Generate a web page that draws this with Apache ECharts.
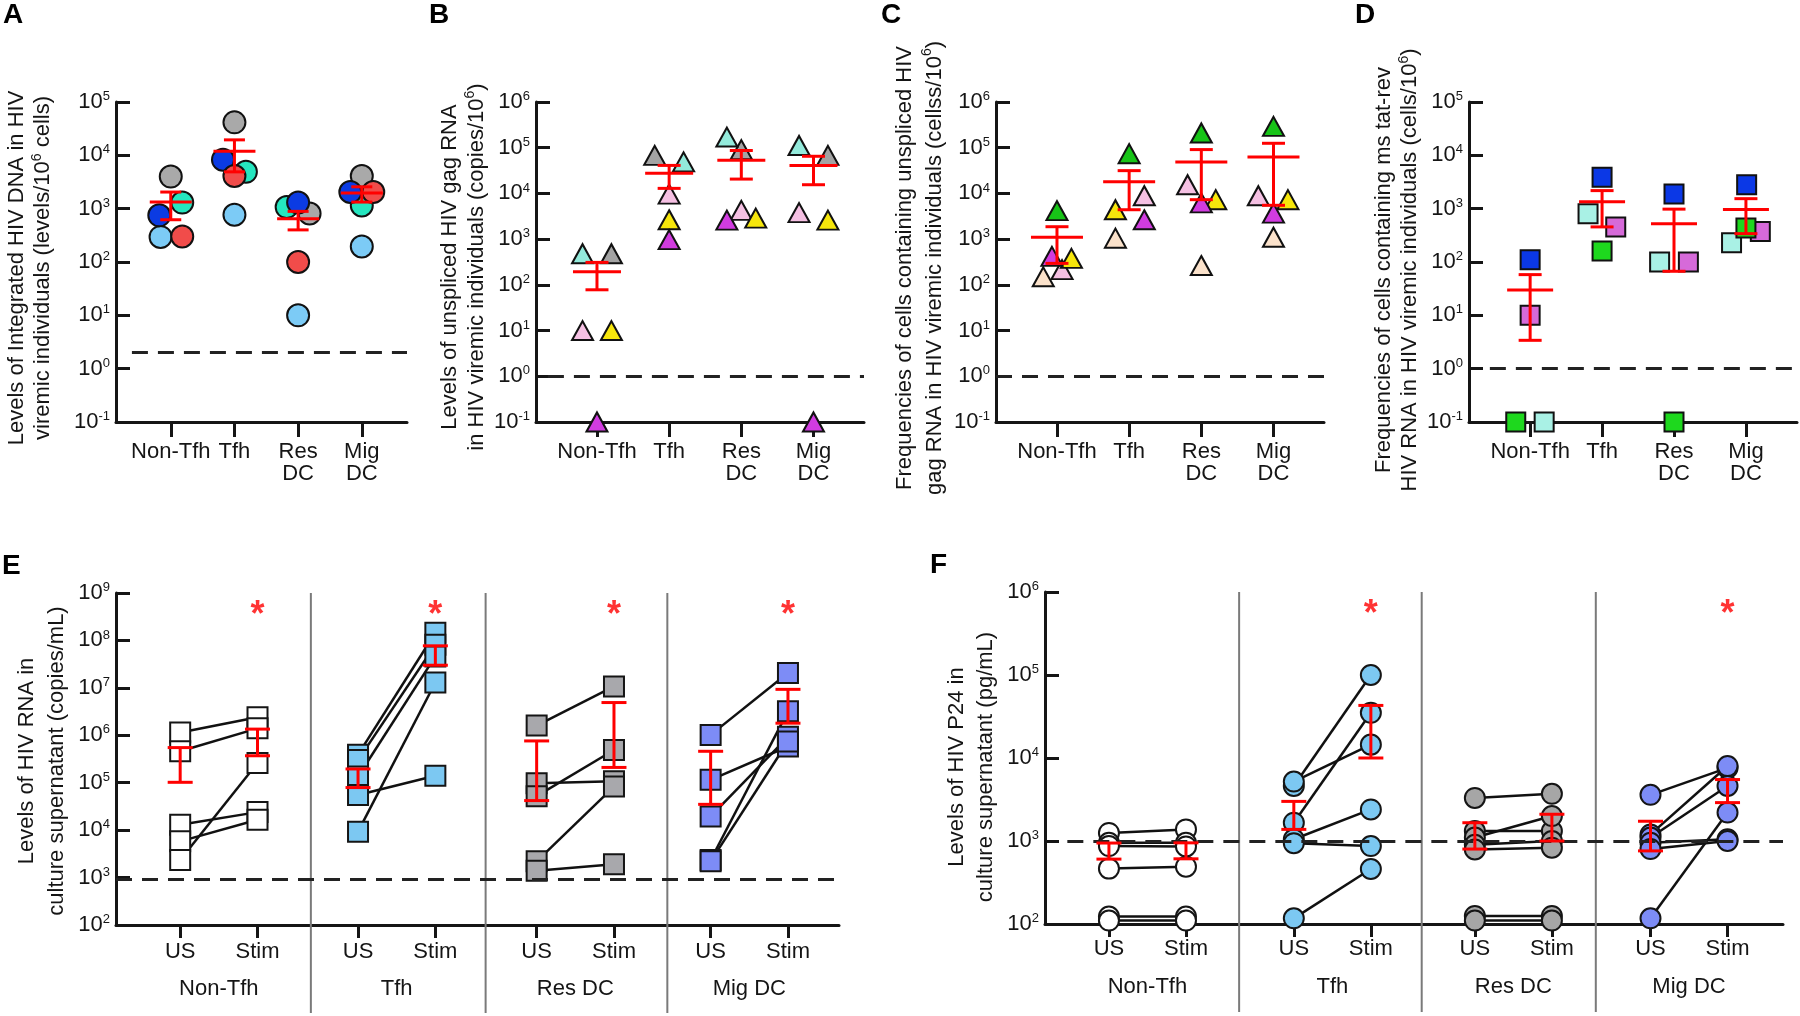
<!DOCTYPE html>
<html><head><meta charset="utf-8">
<style>html,body{margin:0;padding:0;background:#fff}#c{width:1800px;height:1016px}</style>
<script src="https://cdn.jsdelivr.net/npm/echarts@6/dist/echarts.min.js"></script>
</head><body><div id="c"></div><script>
// ================= DATA =================
const categories = ['Non-Tfh', 'Tfh', 'Res\nDC', 'Mig\nDC'];
const groupsEF = ['Non-Tfh', 'Tfh', 'Res DC', 'Mig DC'];
const conditions = ['US', 'Stim'];

// Panel A: integrated HIV DNA
const A_gray      = [4000, 41500, 810, 4100];
const A_teal      = [1300, 4900, 1070, 1150];
const A_lightblue = [295, 770, 10, 195];
const A_blue      = [750, 8300, 1300, 2050];
const A_red       = [300, 4100, 100, 2050];
const A_mean = [1330, 11900, 645, 1960];
const A_low  = [620, 4900, 400, 1330];
const A_high = [2050, 19500, 890, 2570];
const A_limit = 2;

// Panel B: unspliced gag RNA
const B_gray    = [480, 68000, 91000, 68000];
const B_teal    = [480, 49000, 171000, 112000];
const B_pink    = [10, 9650, 4260, 3800];
const B_yellow  = [10, 2650, 2880, 2600];
const B_magenta = [0.1, 975, 2600, 0.1];
const B_mean = [193, 27600, 53500, 41000];
const B_low  = [78, 12900, 20600, 15500];
const B_high = [310, 41000, 87000, 65000];
const B_limit = 1;

// Panel C: cells containing unspliced gag RNA
const C_green   = [4200, 74000, 210000, 293000];
const C_peach   = [150, 1050, 265, 1100];
const C_pink    = [215, 8900, 15500, 8900];
const C_yellow  = [380, 4400, 7300, 7300];
const C_magenta = [420, 2650, 6200, 3700];
const C_mean = [1100, 18000, 49000, 63000];
const C_low  = [295, 4400, 7300, 5500];
const C_high = [1870, 31500, 91000, 125000];
const C_limit = 1;

// Panel D: cells containing ms tat-rev RNA
const D_blue   = [110, 3900, 1880, 2800];
const D_teal   = [0.1, 800, 100, 230];
const D_orchid = [10, 455, 100, 375];
const D_green  = [0.1, 160, 0.1, 435];
const D_mean = [30, 1350, 520, 960];
const D_low  = [3.4, 455, 67, 340];
const D_high = [58, 2180, 980, 1540];
const D_limit = 1;

// Panel E: HIV RNA in culture supernatant (paired US -> Stim)
const E_nonTfh_US   = [1.15e6, 4.6e5, 1.3e4, 5.8e3, 2.35e3];
const E_nonTfh_Stim = [2.4e6, 1.4e6, 2.4e4, 1.66e4, 2.6e5];
const E_tfh_US      = [3.9e5, 3.0e5, 1.35e5, 9.3e3, 5.5e4];
const E_tfh_Stim    = [1.45e8, 8.1e7, 4.6e7, 1.3e7, 1.4e5];
const E_res_US      = [1.6e6, 9.8e4, 5.2e4, 2.2e3, 1.4e3];
const E_res_Stim    = [1.07e7, 1.07e5, 4.9e5, 8.3e4, 1.9e3];
const E_mig_US      = [1.02e6, 1.15e5, 1.95e4, 2.35e3, 2.2e3];
const E_mig_Stim    = [2.05e7, 5.8e5, 9.3e5, 3.2e6, 7.4e5];
const E_US_low    = [1.02e5, 7.9e4, 4.2e4, 3.5e4];
const E_US_high   = [5.5e5, 1.95e5, 7.6e5, 4.6e5];
const E_Stim_low  = [3.7e5, 3.0e7, 2.1e5, 1.8e6];
const E_Stim_high = [1.35e6, 7.7e7, 4.9e6, 9.3e6];
const E_limit = 900;
const E_sig = [true, true, true, true];

// Panel F: HIV P24 in culture supernatant (paired US -> Stim)
const F_nonTfh_US   = [1250, 950, 870, 465, 123, 110];
const F_nonTfh_Stim = [1380, 950, 860, 490, 123, 110];
const F_tfh_US      = [4600, 5200, 1660, 1050, 940, 117];
const F_tfh_Stim    = [100000, 14500, 35000, 2400, 870, 460];
const F_res_US      = [3300, 1320, 1100, 900, 790, 125, 110];
const F_res_Stim    = [3700, 1320, 2000, 1000, 830, 125, 110];
const F_mig_US      = [3600, 1200, 1100, 950, 800, 117];
const F_mig_Stim    = [7600, 8000, 4600, 1050, 1000, 2200];
const F_US_low    = [605, 1380, 800, 760];
const F_US_high   = [945, 3000, 1660, 1730];
const F_Stim_low  = [610, 10000, 1000, 2900];
const F_Stim_high = [950, 43000, 2100, 5500];
const F_limit = 1000;
const F_sig = [false, true, false, true];

// ================= LAYOUT (horizontal jitter / group placement) =================
const A_jitGray=[0,0,0.18,0], A_jitTeal=[0.18,0.18,-0.18,0], A_jitLightblue=[-0.16,0,0,0], A_jitBlue=[-0.18,-0.18,0,-0.18], A_jitRed=[0.18,0,0,0.18];
const B_jitGray=[0.2,-0.2,0,0.2], B_jitTeal=[-0.2,0.2,-0.2,-0.2], B_jitPink=[-0.2,0,0,-0.2], B_jitYellow=[0.2,0,0.2,0.2], B_jitMagenta=[0,0,-0.2,0];
const C_jitGreen=[0,0,0,0], C_jitPeach=[-0.19,-0.19,0,0], C_jitPink=[0.07,0.21,-0.19,-0.21], C_jitYellow=[0.2,-0.19,0.2,0.2], C_jitMagenta=[-0.07,0.21,0,0];
const D_jitBlue=[0,0,0,0.01], D_jitTeal=[0.195,-0.195,-0.2,-0.2], D_jitOrchid=[0,0.19,0.2,0.2], D_jitGreen=[-0.2,0,0,0];
const E_groupX = [0, 2.3, 4.61, 6.86];
const F_groupX = [0, 2.4, 4.75, 7.03];
const E_divX = [1.69, 3.95, 6.3];
const F_divX = [1.69, 4.06, 6.32];
const E_starLevel = 5.1e8, F_starLevel = 6.8e5;

// ================= BUILD =================
const FONT = '"Liberation Sans", Arial, Helvetica, sans-serif';
const INK = '#151515';
const RED = '#ff0000';
const grids = [], xAxes = [], yAxes = [], series = [];

function supFmt(v){ const e = Math.round(Math.log10(v)); return '{b|10}{s|' + e + '}'; }
const tickRich = {
  b:{fontSize:22, fontFamily:FONT, color:INK, lineHeight:24},
  s:{fontSize:13, fontFamily:FONT, color:INK, lineHeight:13, verticalAlign:'top'}
};

function addGrid(left, top, width, height){
  grids.push({left, top, width, height, containLabel:false, outerBoundsMode:'none'});
  return grids.length - 1;
}
function addLogY(gi, min, max, name, gap, lh, shift){
  yAxes.push({type:'log', logBase:10, gridIndex:gi, min, max, splitNumber:10,
    axisLine:{show:true, onZero:false, lineStyle:{color:INK, width:3}},
    axisTick:{show:true, inside:true, length:14, lineStyle:{color:INK, width:3}},
    minorTick:{show:false}, splitLine:{show:false},
    axisLabel:{formatter:supFmt, rich:tickRich, margin:6},
    name, nameLocation:'middle', nameRotate:90, nameGap:gap,
    nameTextStyle:{fontSize:22, fontFamily:FONT, color:INK, lineHeight:lh, padding:[0, shift, 0, 0],
      rich:{s:{fontSize:14, fontFamily:FONT, color:INK, lineHeight:14, verticalAlign:'top'}}}
  });
  return yAxes.length - 1;
}
function addCatX(gi, min, max){
  const vals = categories.map((c, i) => i);
  xAxes.push({type:'value', gridIndex:gi, min, max,
    axisLine:{show:true, onZero:false, lineStyle:{color:INK, width:3}},
    axisTick:{show:true, customValues:vals, length:15, lineStyle:{color:INK, width:3}},
    axisLabel:{customValues:vals, formatter:v => categories[Math.round(v)], fontSize:22, fontFamily:FONT, color:INK, lineHeight:22, margin:19},
    splitLine:{show:false}, minorTick:{show:false}
  });
  return xAxes.length - 1;
}
function errSeries(xi, yi, data, halfMean, halfCap){
  return {type:'custom', xAxisIndex:xi, yAxisIndex:yi, z:6, clip:false, silent:true, animation:false,
    renderItem:(params, api) => {
      const x = api.value(0), lo = api.value(1), hi = api.value(2);
      const pl = api.coord([x, lo]), ph = api.coord([x, hi]);
      const st = {stroke:RED, lineWidth:3, fill:null};
      const ch = [
        {type:'line', shape:{x1:pl[0], y1:pl[1], x2:ph[0], y2:ph[1]}, style:st},
        {type:'line', shape:{x1:pl[0]-halfCap, y1:pl[1], x2:pl[0]+halfCap, y2:pl[1]}, style:st},
        {type:'line', shape:{x1:ph[0]-halfCap, y1:ph[1], x2:ph[0]+halfCap, y2:ph[1]}, style:st}
      ];
      if (halfMean) {
        const pm = api.coord([x, api.value(3)]);
        ch.push({type:'line', shape:{x1:pm[0]-halfMean, y1:pm[1], x2:pm[0]+halfMean, y2:pm[1]}, style:st});
      }
      return {type:'group', children:ch};
    },
    data};
}
function limitLine(xStart, xEnd, lim){
  return {silent:true, symbol:'none', label:{show:false},
    lineStyle:{type:[16,10], color:'#222', width:3},
    data:[[{coord:[xStart, lim]}, {coord:[xEnd, lim]}]]};
}

// ---- top panels ----
const topPanels = [
  {left:116, width:291, xMin:-0.86, xMax:3.71, yMax:1e5, limStart:-0.61, halfMean:21, halfCap:10.5,
   name:'Levels of Integrated HIV DNA in HIV\nviremic individuals (levels/10{s|6} cells)', gap:60, lh:26, shift:12,
   symbol:'circle', size:22,
   subjects:[[A_gray,'#a9a9a9',A_jitGray],[A_teal,'#25e6bf',A_jitTeal],[A_lightblue,'#7ccbf6',A_jitLightblue],[A_blue,'#0b3be3',A_jitBlue],[A_red,'#f14c4a',A_jitRed]],
   mean:A_mean, low:A_low, high:A_high, limit:A_limit},
  {left:536, width:328, xMin:-0.845, xMax:3.70, yMax:1e6, limStart:-0.68, halfMean:24, halfCap:11.5,
   name:'Levels of unspliced HIV gag RNA\nin HIV viremic individuals (copies/10{s|6})', gap:42, lh:27, shift:10,
   symbol:'triangle', size:[21,19],
   subjects:[[B_gray,'#a3a3a3',B_jitGray],[B_teal,'#93eadb',B_jitTeal],[B_pink,'#f5c0e3',B_jitPink],[B_yellow,'#f6e60c',B_jitYellow],[B_magenta,'#d13ce0',B_jitMagenta]],
   mean:B_mean, low:B_low, high:B_high, limit:B_limit},
  {left:996, width:328, xMin:-0.845, xMax:3.70, yMax:1e6, limStart:-0.845, halfMean:26, halfCap:11.5,
   name:'Frequencies of cells containing unspliced HIV\ngag RNA in HIV viremic individuals (cellss/10{s|6})', gap:44, lh:30, shift:12,
   symbol:'triangle', size:[21,19],
   subjects:[[C_green,'#17c417',C_jitGreen],[C_peach,'#fbe2cb',C_jitPeach],[C_pink,'#f5c0e3',C_jitPink],[C_yellow,'#f6e60c',C_jitYellow],[C_magenta,'#d13ce0',C_jitMagenta]],
   mean:C_mean, low:C_low, high:C_high, limit:C_limit},
  {left:1469, width:328, xMin:-0.85, xMax:3.71, yMax:1e5, limStart:-0.56, halfMean:23, halfCap:11.5,
   name:'Frequencies of cells containing ms tat-rev\nHIV RNA in HIV viremic individuals (cells/10{s|6})', gap:43, lh:26, shift:16,
   symbol:'rect', size:19,
   subjects:[[D_blue,'#0b38e6',D_jitBlue],[D_teal,'#a9f1e5',D_jitTeal],[D_orchid,'#d66ad9',D_jitOrchid],[D_green,'#1ed81e',D_jitGreen]],
   mean:D_mean, low:D_low, high:D_high, limit:D_limit}
];
topPanels.forEach(p => {
  const gi = addGrid(p.left, 102, p.width, 320);
  const xi = addCatX(gi, p.xMin, p.xMax);
  const yi = addLogY(gi, 0.1, p.yMax, p.name, p.gap, p.lh, p.shift);
  p.subjects.forEach(([vals, color, jit], k) => {
    const s = {type:'scatter', xAxisIndex:xi, yAxisIndex:yi, z:3, clip:false, symbol:p.symbol, symbolSize:p.size,
      itemStyle:{color, borderColor:'#111', borderWidth:2, opacity:1},
      data: vals.map((v, i) => [i + jit[i], v])};
    if (k === 0) s.markLine = limitLine(p.limStart, p.xMax, p.limit);
    series.push(s);
  });
  series.push(errSeries(xi, yi, p.mean.map((m, i) => [i, p.low[i], p.high[i], m]), p.halfMean, p.halfCap));
});

// ---- bottom paired panels ----
const bottomPanels = [
  {left:116, top:593, width:723, xMin:-0.83, xMax:8.52, yMin:100, yMax:1e9, gx:E_groupX, divX:E_divX,
   name:'Levels of HIV RNA in\nculture supernatant (copies/mL)', gap:44, lh:30, shift:4,
   symbol:'rect', size:20, labelMargin:16, groupMargin:53,
   groups:[[E_nonTfh_US,E_nonTfh_Stim,'#ffffff'],[E_tfh_US,E_tfh_Stim,'#7cc8f2'],[E_res_US,E_res_Stim,'#a8a8ac'],[E_mig_US,E_mig_Stim,'#7d8cf6']],
   usLo:E_US_low, usHi:E_US_high, stLo:E_Stim_low, stHi:E_Stim_high, limit:E_limit, limStart:-0.83, sig:E_sig, star:E_starLevel},
  {left:1045, top:592, width:738, xMin:-0.83, xMax:8.75, yMin:100, yMax:1e6, gx:F_groupX, divX:F_divX,
   name:'Levels of HIV P24 in\nculture supernatant (pg/mL)', gap:45, lh:29, shift:18,
   symbol:'circle', size:20, labelMargin:14, groupMargin:52,
   groups:[[F_nonTfh_US,F_nonTfh_Stim,'#ffffff'],[F_tfh_US,F_tfh_Stim,'#7cc8f2'],[F_res_US,F_res_Stim,'#a6a6a6'],[F_mig_US,F_mig_Stim,'#7d8cf6']],
   usLo:F_US_low, usHi:F_US_high, stLo:F_Stim_low, stHi:F_Stim_high, limit:F_limit, limStart:-0.54, sig:F_sig, star:F_starLevel}
];
bottomPanels.forEach(p => {
  const gi = addGrid(p.left, p.top, p.width, 332);
  const tickVals = [], tickNames = {};
  p.gx.forEach(g => conditions.forEach((c, k) => { tickVals.push(g + k); tickNames[(g + k).toFixed(3)] = c; }));
  xAxes.push({type:'value', gridIndex:gi, min:p.xMin, max:p.xMax,
    axisLine:{show:true, onZero:false, lineStyle:{color:INK, width:3}},
    axisTick:{show:true, customValues:tickVals, length:13, lineStyle:{color:INK, width:3}},
    axisLabel:{customValues:tickVals, formatter:v => tickNames[v.toFixed(3)] || '', fontSize:22, fontFamily:FONT, color:INK, margin:p.labelMargin},
    splitLine:{show:false}, minorTick:{show:false}});
  const xi = xAxes.length - 1;
  const gVals = p.gx.map(g => g + 0.5);
  xAxes.push({type:'value', gridIndex:gi, min:p.xMin, max:p.xMax, position:'bottom',
    axisLine:{show:false}, axisTick:{show:false}, splitLine:{show:false}, minorTick:{show:false},
    axisLabel:{customValues:gVals, formatter:v => { const i = gVals.findIndex(g => Math.abs(g - v) < 1e-6); return i >= 0 ? groupsEF[i] : ''; },
      fontSize:22, fontFamily:FONT, color:INK, margin:p.groupMargin}});
  const yi = addLogY(gi, p.yMin, p.yMax, p.name, p.gap, p.lh, p.shift);

  // dividers between cell types
  series.push({type:'custom', xAxisIndex:xi, yAxisIndex:yi, z:1, clip:false, silent:true,
    renderItem:(params, api) => {
      const t = api.coord([api.value(0), p.yMax]), b = api.coord([api.value(0), p.yMin]);
      return {type:'line', shape:{x1:t[0], y1:t[1], x2:b[0], y2:b[1] + 88}, style:{stroke:'#7a7a7a', lineWidth:2}};
    },
    data:p.divX.map(x => [x, p.yMax]),
    markLine: limitLine(p.limStart, p.xMax, p.limit)});

  p.groups.forEach(([us, st, color], g) => {
    const x0 = p.gx[g];
    us.forEach((v, i) => {
      series.push({type:'line', xAxisIndex:xi, yAxisIndex:yi, z:2, silent:true, showSymbol:false, symbol:'none',
        lineStyle:{color:'#111', width:2.5}, data:[[x0, v], [x0 + 1, st[i]]]});
    });
    series.push({type:'scatter', xAxisIndex:xi, yAxisIndex:yi, z:3, clip:false, symbol:p.symbol, symbolSize:p.size,
      itemStyle:{color, borderColor:'#151515', borderWidth:2, opacity:1},
      data: us.map(v => [x0, v]).concat(st.map(v => [x0 + 1, v]))});
  });
  series.push(errSeries(xi, yi, p.gx.flatMap((g, i) => [[g, p.usLo[i], p.usHi[i]], [g + 1, p.stLo[i], p.stHi[i]]]), 0, 12.5));
  // significance stars
  series.push({type:'scatter', xAxisIndex:xi, yAxisIndex:yi, z:7, clip:false, symbol:'circle', symbolSize:1,
    itemStyle:{color:'rgba(0,0,0,0)'},
    label:{show:true, position:'inside', formatter:'*', offset:[0, 9], fontSize:36, fontWeight:'bold', fontFamily:FONT, color:RED},
    data: p.gx.map((g, i) => p.sig[i] ? [g + 1, p.star] : null).filter(d => d)});
});

const letters = [['A',3,1],['B',429,1],['C',881,1],['D',1355,1],['E',2,552],['F',930,551]];
const option = {
  animation:false, backgroundColor:'#ffffff',
  title: letters.map(([t, l, tp]) => ({text:t, left:l, top:tp, padding:0,
    textStyle:{fontSize:28, fontWeight:'bold', fontFamily:FONT, color:'#000'}})),
  grid:grids, xAxis:xAxes, yAxis:yAxes, series
};
const chart = echarts.init(document.getElementById('c'), null, {renderer:'canvas', width:1800, height:1016});
chart.setOption(option);
</script></body></html>
